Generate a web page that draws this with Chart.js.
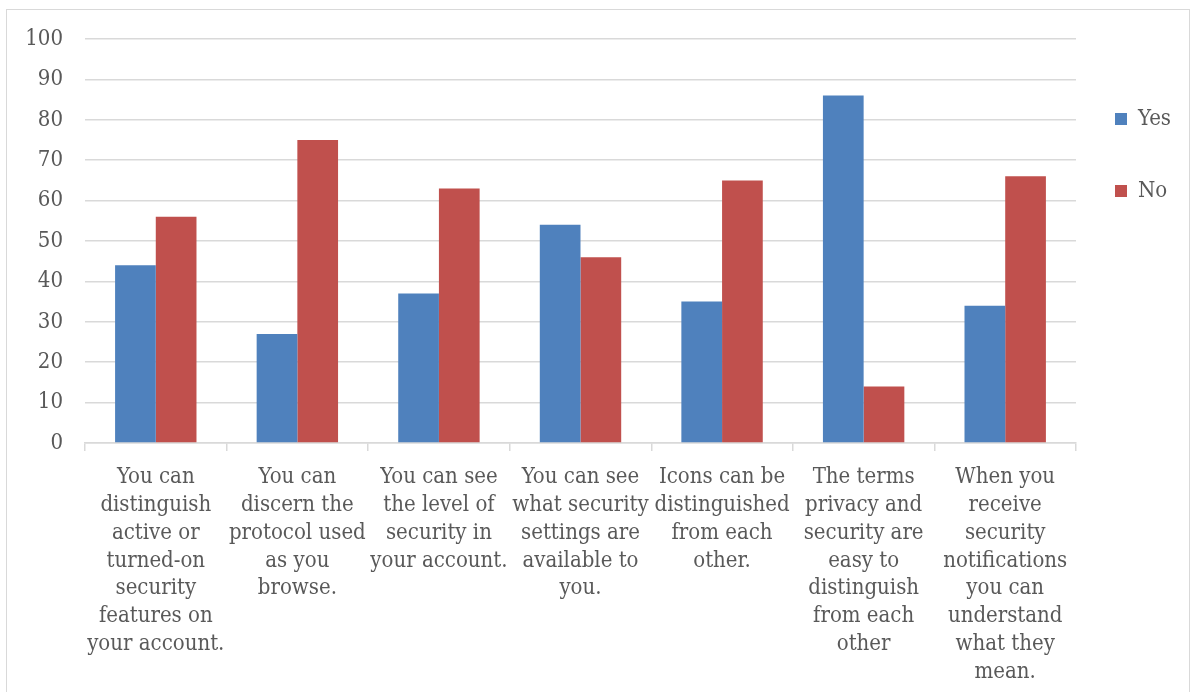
<!DOCTYPE html>
<html>
<head>
<meta charset="utf-8">
<script src="https://cdn.jsdelivr.net/npm/chart.js@4.4.1/dist/chart.umd.min.js"></script>
<style>
  html, body { margin: 0; padding: 0; background: #fff; }
  #wrap { position: absolute; left: 0; top: 0; width: 1192px; height: 692px; }
  #frame { position: absolute; left: 6px; top: 9px; width: 1184px; height: 690px; border: 1.5px solid #d9d9d9; box-sizing: border-box; pointer-events: none; }
</style>
</head>
<body>
<div id="wrap"><canvas id="c" width="1192" height="692"></canvas></div>
<div id="frame"></div>
<script>
const categories = [
  ["You can", "distinguish", "active or", "turned-on", "security", "features on", "your account."],
  ["You can", "discern the", "protocol used", "as you", "browse."],
  ["You can see", "the level of", "security in", "your account."],
  ["You can see", "what security", "settings are", "available to", "you."],
  ["Icons can be", "distinguished", "from each", "other."],
  ["The terms", "privacy and", "security are", "easy to", "distinguish", "from each", "other"],
  ["When you", "receive", "security", "notifications", "you can", "understand", "what they", "mean."]
];
const yesValues = [44, 27, 37, 54, 35, 86, 34];
const noValues = [56, 75, 63, 46, 65, 14, 66];
const yTicks = [0, 10, 20, 30, 40, 50, 60, 70, 80, 90, 100];

const FONT = "'DejaVu Serif Condensed', 'Liberation Serif', serif";
const TXT = '#595959';
const GRID = '#d9d9d9';

// shift legend a little toward the plot (gap between plot and legend box is narrower than item spacing)
const legendShift = {
  id: 'legendShift',
  beforeDraw(chart) {
    const lg = chart.legend;
    if (lg && !lg._shifted) {
      lg.left -= 11; lg.right -= 11;
      lg._shifted = true;
    }
  }
};

new Chart(document.getElementById('c'), {
  type: 'bar',
  data: {
    labels: categories,
    datasets: [
      { label: 'Yes', data: yesValues, backgroundColor: '#4f81bd', borderWidth: 0, barPercentage: 1.0, categoryPercentage: 0.575 },
      { label: 'No', data: noValues, backgroundColor: '#c0504d', borderWidth: 0, barPercentage: 1.0, categoryPercentage: 0.575 }
    ]
  },
  plugins: [legendShift],
  options: {
    responsive: false,
    animation: false,
    layout: { padding: { top: 39, left: 0, right: 0, bottom: 0 } },
    plugins: {
      tooltip: { enabled: false },
      legend: {
        position: 'right',
        align: 'start',
        title: { display: true, text: ' ', font: { size: 10 }, padding: { top: 7, bottom: 0 } },
        labels: {
          boxWidth: 12, boxHeight: 12, padding: 50,
          color: TXT,
          font: { family: FONT, size: 22 }
        }
      }
    },
    scales: {
      x: {
        grid: { display: true, drawOnChartArea: false, drawTicks: true, tickLength: 8, color: GRID, lineWidth: 1.5, offset: true },
        border: { display: true, color: GRID, width: 1.5 },
        ticks: { color: TXT, font: { family: FONT, size: 22, lineHeight: 1.27 }, maxRotation: 0, autoSkip: false, padding: 12 },
        afterFit: (s) => { s.height = 249; }
      },
      y: {
        min: 0, max: 100,
        afterBuildTicks: (s) => { s.ticks = yTicks.map(v => ({ value: v })); },
        grid: { color: GRID, lineWidth: 1.5, drawTicks: false },
        border: { display: false },
        ticks: { color: TXT, font: { family: FONT, size: 22 }, padding: 22 },
        afterFit: (s) => { s.width = 85; }
      }
    }
  }
});
</script>
</body>
</html>
